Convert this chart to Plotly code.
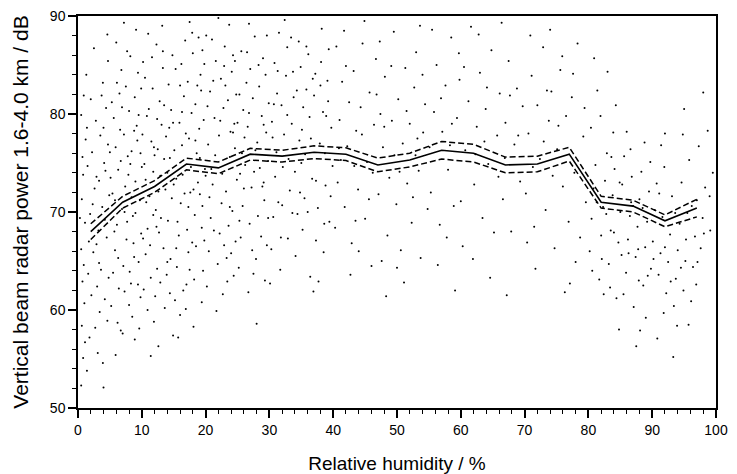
import plotly.graph_objects as go

# Binned mean curve (5 % RH bins) and its confidence band
rh_bins = [2, 7, 12, 17, 22, 27, 32, 37, 42, 47, 52, 57, 62, 67, 72, 77, 82, 87, 92, 97]
mean_power = [68.0, 71.0, 72.6, 74.9, 74.5, 75.9, 75.7, 76.1, 75.9, 74.8, 75.3, 76.3, 76.0, 74.8, 74.9, 75.9, 71.0, 70.6, 69.1, 70.4]
err_power = [0.8, 0.6, 0.6, 0.6, 0.6, 0.6, 0.6, 0.65, 0.65, 0.7, 0.7, 0.9, 0.9, 0.8, 0.8, 0.7, 0.6, 0.6, 0.6, 0.9]

# Individual observations (hand-read, grouped by RH band)
obs_0_5 = [(0.5,52.3),(0.8,55.1),(0.6,58.4),(1.0,60.7),(0.7,62.9),(0.9,64.6),(0.5,66.2),(1.1,68.9),(0.6,71.3),(0.8,73.8),(0.7,75.6),(1.2,77.4),(0.5,79.9),(1.4,53.8),(1.8,57.2),(2.1,61.5),(1.6,63.7),(2.4,65.9),(1.9,69.8),(2.6,72.4),(1.5,74.7),(2.2,76.1),(2.8,79.3),(3.1,55.6),(3.4,59.8),(3.0,62.4),(3.6,64.1),(2.9,66.7),(3.8,70.5),(3.3,73.2),(4.1,75.0),(3.5,77.8),(4.4,80.6),(4.0,52.1),(4.6,58.9),(4.2,61.1),(4.8,63.3),(4.5,67.4),(4.9,71.7),(4.3,74.2),(4.7,76.9),(3.9,83.2),(2.5,86.7),(1.3,84.0),(4.6,88.1),(2.0,81.5),(3.2,68.1),(1.7,67.0),(4.0,78.6),(2.7,58.2)]
obs_5_10 = [(5.2,60.4),(5.5,63.8),(5.8,66.1),(6.1,68.7),(5.4,71.9),(6.3,74.3),(5.9,76.6),(6.6,78.4),(5.3,81.2),(6.8,84.5),(6.0,87.3),(7.0,57.6),(7.3,61.9),(7.1,64.5),(7.6,67.2),(7.4,72.6),(7.8,75.7),(7.2,77.9),(8.0,80.3),(7.5,82.8),(8.2,85.9),(8.5,59.3),(8.3,62.7),(8.8,65.4),(8.6,69.6),(9.0,73.1),(8.4,76.2),(9.2,78.8),(8.9,81.7),(9.4,84.2),(9.1,88.6),(9.6,58.1),(9.8,61.3),(9.5,64.9),(9.9,67.8),(9.7,71.2),(10.0,74.6),(9.3,77.3),(6.4,62.2),(6.9,70.3),(5.6,79.6),(7.9,73.8),(8.7,66.8),(6.2,58.7),(9.0,69.9),(5.1,73.5),(7.7,86.4),(8.1,63.9),(6.7,75.2),(9.5,79.9),(5.7,68.0),(8.4,71.5),(7.2,89.3),(6.5,82.1),(9.8,76.0),(5.9,55.4),(8.9,57.0)]
obs_10_15 = [(10.3,62.1),(10.6,65.7),(10.9,68.3),(11.2,71.6),(10.4,74.9),(11.5,77.2),(10.8,79.8),(11.7,82.6),(10.2,85.3),(11.0,88.2),(11.9,58.8),(12.1,61.4),(12.4,64.2),(12.7,67.9),(12.2,70.2),(12.9,73.7),(12.5,76.4),(13.1,78.9),(12.8,81.3),(13.3,84.7),(12.3,87.1),(13.6,60.2),(13.9,63.6),(13.4,66.3),(14.1,69.1),(13.7,72.3),(14.4,75.5),(13.8,77.7),(14.6,80.4),(14.2,83.0),(14.8,86.0),(14.9,57.4),(14.5,65.2),(11.4,63.3),(12.0,75.8),(13.0,69.4),(10.7,71.0),(11.8,74.1),(14.3,78.6),(10.1,77.9),(12.6,56.3),(13.5,80.9),(11.3,66.6),(14.7,71.4),(10.5,83.7),(12.9,62.8),(13.2,89.0),(11.6,85.8),(14.0,74.0),(10.9,60.0),(12.4,79.5)]
obs_15_20 = [(15.2,61.0),(15.5,64.4),(15.8,67.6),(16.1,70.9),(15.4,73.4),(16.3,76.8),(15.9,79.1),(16.6,81.8),(15.3,84.6),(16.8,87.5),(16.0,59.5),(17.0,62.6),(17.3,65.9),(17.1,68.2),(17.6,72.0),(17.4,77.5),(17.8,80.1),(17.2,83.3),(18.0,86.2),(17.5,89.4),(18.2,63.1),(18.5,66.5),(18.3,69.7),(18.8,73.0),(18.6,76.0),(19.0,78.5),(18.4,81.0),(19.2,84.0),(18.9,87.8),(19.4,60.8),(19.6,64.0),(19.8,67.1),(19.5,70.6),(19.9,74.4),(19.7,79.4),(19.3,82.4),(15.6,69.0),(16.5,62.0),(17.7,74.6),(18.1,58.3),(16.9,78.0),(15.1,76.3),(19.1,71.8),(16.2,85.1),(17.9,66.9),(18.7,82.9),(15.7,57.2),(19.5,86.5),(16.4,73.8),(17.3,70.5)]
obs_20_25 = [(20.2,62.4),(20.5,66.0),(20.8,69.4),(21.1,72.8),(20.4,76.9),(21.4,79.6),(20.7,82.3),(21.6,85.4),(20.1,88.0),(21.9,64.7),(22.2,67.8),(22.5,70.9),(22.1,77.8),(22.8,80.6),(22.4,83.6),(23.0,86.9),(22.7,61.6),(23.3,65.3),(23.6,68.6),(23.2,72.1),(23.9,78.2),(23.5,81.4),(24.1,84.3),(23.7,89.1),(24.4,63.5),(24.7,67.0),(24.2,70.1),(24.9,73.3),(24.5,79.0),(24.8,82.0),(24.3,86.0),(20.9,74.4),(21.7,59.9),(22.6,73.9),(23.8,75.6),(21.3,68.1),(24.6,76.5),(20.3,80.8),(22.9,84.9),(23.4,62.9),(21.0,87.6),(24.0,65.8)]
obs_25_30 = [(25.2,64.3),(25.5,67.4),(25.8,70.6),(25.4,73.9),(26.1,77.6),(25.9,80.4),(26.4,83.2),(25.6,86.4),(26.7,61.8),(26.9,68.8),(27.2,72.5),(26.6,78.7),(27.4,81.6),(27.0,84.6),(27.7,87.9),(27.9,65.2),(28.2,69.6),(28.5,74.5),(28.1,77.1),(28.8,79.8),(28.4,82.8),(29.0,85.7),(29.3,63.0),(29.6,66.6),(29.2,71.2),(29.8,75.2),(29.5,78.1),(29.9,81.1),(29.4,84.0),(26.2,74.8),(27.5,63.7),(28.7,67.5),(25.3,82.0),(27.8,76.3),(26.8,89.2),(29.1,73.0),(28.0,58.6),(25.7,76.0)]
obs_30_40 = [(30.3,66.2),(30.6,69.5),(30.9,73.6),(30.4,79.2),(31.2,82.1),(30.8,85.2),(31.5,88.3),(31.7,64.1),(32.0,70.7),(32.3,77.9),(31.9,80.9),(32.6,83.9),(32.9,67.3),(33.2,72.2),(32.8,86.8),(33.5,79.0),(33.8,81.7),(34.1,65.5),(34.4,69.8),(34.0,74.1),(34.7,77.3),(34.9,84.8),(35.2,68.2),(35.5,71.4),(35.1,78.4),(35.8,82.5),(36.1,86.1),(36.4,63.4),(36.7,73.4),(36.3,79.7),(37.0,81.9),(37.3,67.1),(37.6,70.4),(37.2,84.1),(37.9,77.0),(38.2,88.7),(38.5,65.9),(38.8,72.7),(38.4,80.2),(39.1,83.4),(39.4,69.0),(39.7,78.6),(39.3,86.6),(39.9,74.7),(31.1,76.1),(33.0,75.4),(35.6,75.9),(36.9,61.9),(38.0,82.9),(30.1,62.7),(32.4,89.6),(34.6,87.4),(36.0,70.0),(38.7,76.0),(31.4,71.0),(33.7,84.3)]
obs_40_55 = [(40.3,68.4),(40.7,73.0),(41.0,79.4),(41.4,83.3),(40.5,86.9),(41.8,70.5),(42.2,76.7),(42.5,81.2),(42.9,66.8),(43.2,84.4),(43.6,78.3),(43.9,72.3),(44.3,80.7),(44.6,87.2),(45.0,69.3),(45.3,75.1),(45.7,82.2),(46.0,64.5),(46.4,78.9),(46.7,85.6),(47.1,71.8),(47.4,80.0),(47.8,76.6),(48.1,83.8),(48.5,67.6),(48.8,73.5),(49.2,79.3),(49.5,88.4),(49.9,70.8),(50.2,81.5),(50.6,66.1),(50.9,77.0),(51.3,84.7),(51.6,72.9),(52.0,79.0),(52.3,68.9),(52.7,82.7),(53.0,86.3),(53.4,74.2),(53.7,65.3),(54.1,78.1),(54.4,81.0),(54.8,70.3),(42.7,63.6),(44.9,89.5),(47.6,65.0),(49.6,75.8),(51.1,62.8),(53.2,77.5),(41.2,75.3),(46.2,74.0),(48.3,61.4),(52.5,71.5),(43.5,69.1)]
obs_55_70 = [(55.3,72.0),(55.8,80.2),(56.2,85.0),(56.7,68.7),(57.1,78.2),(57.6,82.9),(58.0,74.3),(58.5,87.8),(58.9,70.6),(59.4,79.6),(59.8,83.5),(60.3,66.5),(60.7,76.3),(61.2,81.3),(61.6,88.9),(62.1,72.8),(62.5,78.7),(63.0,84.2),(63.4,69.4),(63.9,80.5),(64.3,74.9),(64.8,86.5),(65.2,67.9),(65.7,77.8),(66.1,82.1),(66.6,71.3),(67.0,79.1),(67.5,85.4),(67.9,68.0),(68.4,76.9),(68.8,82.6),(69.3,73.1),(69.7,80.8),(56.4,64.6),(59.1,62.0),(61.9,65.2),(64.6,63.3),(67.2,61.5),(58.3,76.8),(62.8,88.1),(66.9,75.5),(60.0,71.1),(55.5,88.6)]
obs_70_80 = [(70.2,71.9),(70.6,78.0),(71.1,83.9),(71.5,68.5),(72.0,80.9),(72.4,75.4),(72.9,86.8),(73.3,70.2),(73.8,79.3),(74.2,82.3),(74.7,66.3),(75.1,76.4),(75.6,84.5),(76.0,72.6),(76.5,79.8),(76.9,69.0),(77.4,81.7),(77.8,74.0),(78.3,87.2),(78.7,67.4),(79.2,77.7),(79.6,71.0),(71.7,64.2),(74.4,73.7),(76.3,61.8),(78.0,64.9),(73.0,77.2),(70.9,88.0),(75.9,85.9),(77.1,62.7)]
obs_80_90 = [(80.2,66.0),(80.5,69.3),(80.8,72.4),(81.1,74.8),(80.4,78.6),(81.4,82.4),(81.7,63.1),(82.0,67.6),(82.3,70.5),(82.6,73.2),(82.9,76.0),(83.2,64.7),(83.5,68.1),(83.8,71.7),(84.1,74.4),(84.4,61.2),(84.7,66.9),(85.0,70.0),(85.3,72.8),(85.6,75.7),(85.9,63.8),(86.2,67.2),(86.5,69.6),(86.8,73.6),(87.1,60.3),(87.4,65.4),(87.7,68.5),(88.0,71.3),(88.3,74.1),(88.6,62.5),(88.9,66.4),(89.2,69.0),(89.5,72.1),(89.8,64.2),(81.9,79.8),(83.0,84.3),(84.8,58.0),(86.0,78.2),(87.5,56.3),(88.8,77.1),(82.4,61.6),(85.2,65.6),(86.7,71.0),(89.0,59.2),(83.6,75.6),(87.9,63.0),(80.9,85.7),(84.3,80.9)]
obs_90_100 = [(90.1,67.0),(90.4,70.2),(90.7,72.9),(91.0,63.6),(91.3,65.8),(91.6,69.5),(91.9,74.6),(92.2,61.7),(92.5,64.9),(92.8,67.7),(93.1,71.6),(93.4,60.4),(93.7,63.2),(94.0,66.1),(94.3,68.8),(94.6,73.0),(94.9,62.0),(95.2,65.0),(95.5,69.9),(95.8,75.3),(96.1,60.9),(96.4,64.4),(96.7,67.5),(97.0,71.2),(97.3,76.7),(97.6,66.3),(97.9,69.4),(98.3,72.5),(98.7,78.3),(99.1,68.1),(99.5,74.0),(90.8,57.1),(92.0,78.0),(93.9,58.4),(95.0,80.5),(96.9,62.6),(98.0,82.2),(91.4,76.8),(93.3,55.2),(94.8,77.9)]
obs_extra_a = [(0.3,69.4),(1.1,56.7),(2.3,70.8),(3.7,81.9),(4.2,69.2),(5.0,76.1),(6.3,65.3),(6.9,80.7),(7.7,69.0),(8.2,74.9),(9.4,62.6),(10.2,67.3),(11.1,80.5),(11.8,69.7),(12.6,72.1),(13.5,75.4),(14.0,64.9),(14.9,79.1),(15.4,66.3),(16.0,82.9),(16.7,71.9),(17.5,64.1),(18.4,77.3),(19.1,75.5),(19.8,85.1),(2.9,73.6),(5.8,71.2),(8.8,78.3),(11.9,76.6),(16.3,80.2),(18.1,72.3),(3.3,64.8),(6.1,83.2),(9.9,82.6),(13.3,86.4),(17.9,88.3),(1.4,78.6),(4.7,85.4),(7.3,70.0),(10.6,73.3),(12.3,68.5),(15.0,72.8),(19.4,68.4),(0.9,81.9),(8.0,60.5),(14.4,61.7),(16.9,60.1),(6.7,57.9),(11.4,55.3),(3.9,54.6)]
obs_extra_b = [(20.6,71.5),(21.5,75.8),(22.3,79.3),(23.1,82.9),(23.8,70.5),(24.6,85.4),(25.3,69.1),(26.0,72.4),(26.8,80.1),(27.6,74.1),(28.3,85.0),(29.1,78.9),(29.8,69.4),(30.5,77.6),(31.3,84.4),(32.1,74.6),(32.8,79.9),(33.6,69.9),(34.3,82.4),(35.0,75.0),(35.8,86.9),(36.5,77.5),(37.3,73.2),(38.1,85.3),(38.9,79.8),(39.6,71.6),(21.2,83.4),(22.9,66.6),(24.3,78.1),(26.5,86.3),(27.3,66.1),(28.9,72.6),(30.7,81.0),(33.4,87.8),(35.3,80.7),(36.8,83.6),(38.6,68.8),(39.2,81.3),(20.0,73.7),(25.0,79.1),(31.8,67.4),(34.8,72.0),(37.7,62.9),(22.0,89.8),(29.6,88.0)]
obs_extra_c = [(40.9,76.5),(42.0,84.9),(43.3,74.7),(44.5,77.9),(45.6,71.3),(46.8,82.0),(48.0,78.7),(49.1,84.9),(50.4,74.1),(51.5,80.3),(52.9,75.8),(54.0,84.0),(55.1,76.6),(56.9,81.6),(58.6,79.0),(60.5,84.8),(62.3,75.9),(64.1,82.7),(65.9,73.6),(67.7,81.9),(69.0,77.8),(71.3,74.6),(73.5,82.4),(75.3,78.8),(77.6,84.1),(79.4,80.6),(44.0,66.0),(50.0,64.3),(57.8,67.4),(63.7,77.2),(70.4,66.9),(41.7,88.5),(47.3,87.4),(53.6,89.0),(59.7,86.2),(66.4,89.3),(74.0,88.6)]
obs_extra_d = [(80.6,64.0),(81.3,71.0),(82.1,65.2),(82.8,69.8),(83.4,62.3),(84.0,67.9),(84.9,73.0),(85.5,61.6),(86.3,65.8),(87.0,70.6),(87.8,66.2),(88.5,70.4),(89.3,63.5),(90.2,65.2),(91.1,71.9),(92.0,66.4),(92.9,62.9),(93.6,69.9),(94.5,64.3),(95.3,67.2),(96.2,70.6),(97.1,64.9),(98.1,67.8),(99.0,71.6),(83.9,78.1),(86.6,76.4),(89.7,75.1),(91.8,59.7),(95.7,58.5),(88.1,57.9)]

x_ticks = [0, 10, 20, 30, 40, 50, 60, 70, 80, 90, 100]
y_ticks = [50, 60, 70, 80, 90]

bands = [obs_0_5, obs_5_10, obs_10_15, obs_15_20, obs_20_25, obs_25_30,
         obs_30_40, obs_40_55, obs_55_70, obs_70_80, obs_80_90, obs_90_100,
         obs_extra_a, obs_extra_b, obs_extra_c, obs_extra_d]
obs_rh = [p[0] for b in bands for p in b]
obs_pw = [p[1] for b in bands for p in b]

upper = [m + e for m, e in zip(mean_power, err_power)]
lower = [m - e for m, e in zip(mean_power, err_power)]

fig = go.Figure()
fig.add_trace(go.Scatter(x=obs_rh, y=obs_pw, mode="markers",
                         marker=dict(color="black", size=2), hoverinfo="skip"))
fig.add_trace(go.Scatter(x=rh_bins, y=upper, mode="lines",
                         line=dict(color="black", width=1.5, dash="6px,3px")))
fig.add_trace(go.Scatter(x=rh_bins, y=lower, mode="lines",
                         line=dict(color="black", width=1.5, dash="6px,3px")))
fig.add_trace(go.Scatter(x=rh_bins, y=mean_power, mode="lines",
                         line=dict(color="black", width=1.6)))

axis_common = dict(showgrid=False, zeroline=False, showline=True, linecolor="black",
                   linewidth=1.5, mirror=True, ticks="outside", ticklen=8, tickwidth=1.5,
                   tickcolor="black", tickfont=dict(size=14, color="black"), automargin=False,
                   ticklabeloverflow="allow")

fig.update_xaxes(range=[0, 100], tickvals=x_ticks,
                 minor=dict(dtick=2, ticks="outside", ticklen=4, tickwidth=1, tickcolor="black"),
                 title=dict(text="Relative humidity / %", font=dict(size=19, color="black"), standoff=20),
                 **axis_common)
fig.update_yaxes(range=[50, 90], tickvals=y_ticks,
                 minor=dict(dtick=2, ticks="outside", ticklen=4, tickwidth=1, tickcolor="black"),
                 title=dict(text="Vertical beam radar power 1.6-4.0 km / dB", font=dict(size=21, color="black"), standoff=16),
                 **axis_common)

# the page adds an 8 px body margin, so the figure is sized to fit inside it
fig.update_layout(width=721, height=466, showlegend=False,
                  margin=dict(l=70, r=13, t=8, b=66),
                  plot_bgcolor="white", paper_bgcolor="white",
                  font=dict(family="Liberation Sans, Arial, sans-serif", color="black"))

fig.write_html("out.html")
